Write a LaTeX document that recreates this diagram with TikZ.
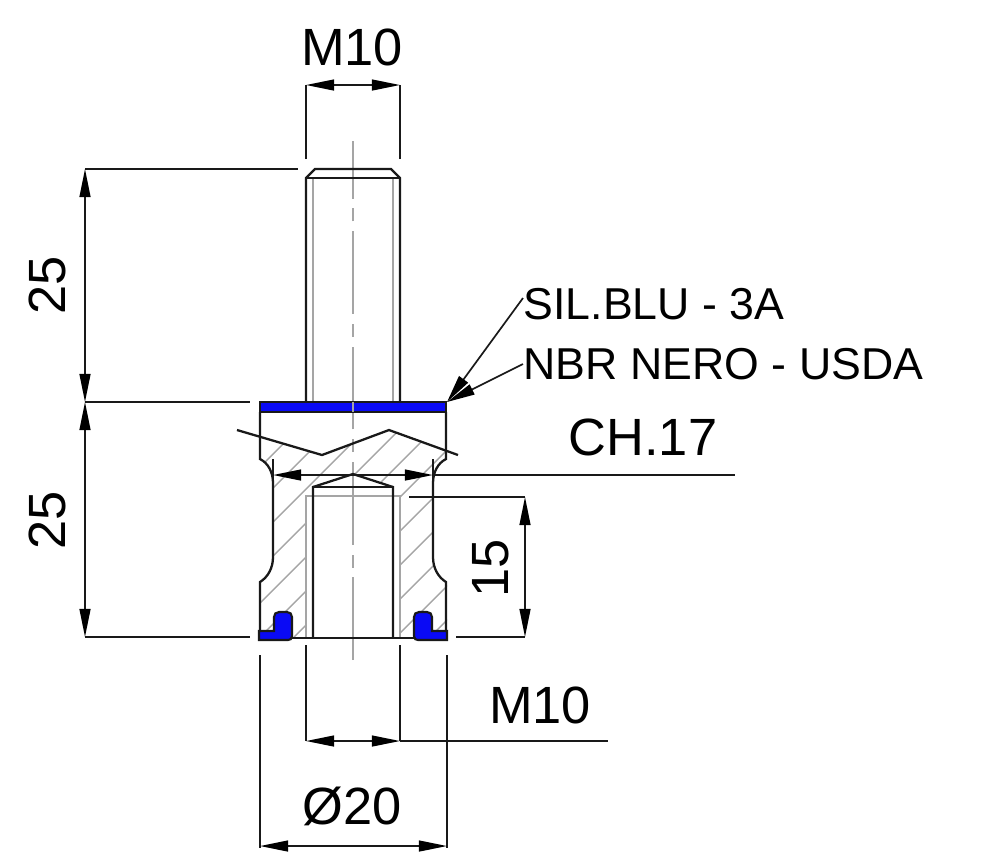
\documentclass[tikz,border=0pt]{standalone}
\usepackage{fontspec}
\setmainfont{Liberation Sans}
\usetikzlibrary{arrows.meta}
\usetikzlibrary{positioning}

\definecolor{sealblue}{RGB}{10,10,245}
\definecolor{hiddengray}{RGB}{165,165,165}

\tikzset{
    outline/.style={black!90,line width=0.65pt},
    hidden/.style={hiddengray,line width=0.6pt},
    hatchline/.style={hiddengray,line width=0.4pt},
    dimline/.style={black!90,line width=0.48pt},
    dimarrow/.style={dimline,{Triangle[length=8pt,width=3.1pt,black]}-{Triangle[length=8pt,width=3.1pt,black]}},
    leader/.style={dimline,-{Triangle[length=8pt,width=3.1pt,black]}},
    seal/.style={draw=black!90,fill=sealblue,line width=0.6pt},
    biglabel/.style={font=\fontsize{14.9}{16}\selectfont,inner sep=0pt},
    smalllabel/.style={font=\fontsize{12.7}{14}\selectfont,inner sep=0pt,anchor=west}
}

\begin{document}
\begin{tikzpicture}[x=0.01cm,y=-0.01cm]
    \useasboundingbox (0,0) rectangle (1000,853);

    %%% Section hatching %%%
    \begin{scope}
        \clip (260,437) -- (322,455) -- (389,430) -- (447,451) -- (447,459)
            .. controls (438,463) and (433,472) .. (433,483) -- (433,557)
            .. controls (433,568) and (438,577) .. (447,582) -- (447,638)
            -- (400,638) -- (400,496) -- (393,496) -- (393,487) -- (353,474)
            -- (313,487) -- (313,496) -- (306,496) -- (306,638) -- (260,638)
            -- (260,582) .. controls (268,577) and (273,568) .. (273,557) -- (273,483)
            .. controls (273,472) and (268,463) .. (260,459) -- cycle;
        \foreach \s in {727,761,795,829,863,897,931,965,999,1033,1067}
            \draw[hatchline] (\s-400,400) -- (\s-650,650);
    \end{scope}

    %%% Hidden lines %%%
    \draw[hidden] (313,178) -- (313,402);
    \draw[hidden] (393,178) -- (393,402);
    \draw[hidden] (306,638) -- (306,496) -- (400,496) -- (400,638);
    \draw[hiddengray,line width=0.45pt,dash pattern=on 23.5pt off 2.8pt on 3.7pt off 2.8pt] (353,660) -- (353,141);

    %%% Stud %%%
    \draw[outline] (306,402) -- (306,178) -- (315,169) -- (391,169) -- (400,178) -- (400,402);
    \draw[outline] (306,178) -- (400,178);

    %%% Body %%%
    \draw[outline] (260,412) -- (260,459)
        .. controls (268,463) and (273,472) .. (273,483) -- (273,557)
        .. controls (273,568) and (268,577) .. (260,582) -- (260,631);
    \draw[outline] (446,412) -- (446,459)
        .. controls (438,463) and (433,472) .. (433,483) -- (433,557)
        .. controls (433,568) and (438,577) .. (446,582) -- (446,631);
    \draw[outline] (237,430) -- (322,455) -- (389,430) -- (458,455);

    %%% Threaded hole %%%
    \draw[outline] (313,638) -- (313,487) -- (353,474) -- (393,487) -- (393,638);
    \draw[outline] (313,487) -- (393,487);
    \draw[black!90,line width=0.8pt] (292,638) -- (414,638);

    %%% Seals %%%
    \draw[seal] (260,402) rectangle (446,412);
    \draw[seal] (259,640) -- (259,631) -- (274,631) -- (274,617)
        .. controls (274,614) and (276,612) .. (279,612) -- (287,612)
        .. controls (290,612) and (292,614) .. (292,617) -- (292,636)
        .. controls (292,639) and (290,640) .. (288,640) -- cycle;
    \draw[seal] (447,640) -- (447,631) -- (432,631) -- (432,617)
        .. controls (432,614) and (430,612) .. (427,612) -- (419,612)
        .. controls (416,612) and (414,614) .. (414,617) -- (414,636)
        .. controls (414,639) and (416,640) .. (418,640) -- cycle;
    \draw[hiddengray,line width=0.45pt] (353,402) -- (353,412);

    %%% Labels %%%
    \node[biglabel] (threadtop) at (352,47) {M10};
    \node[biglabel,rotate=90] (studlen) at (47,285) {25};
    \node[biglabel,rotate=90] (bodylen) at (47,520) {25};
    \node[biglabel,rotate=90] (holelen) at (491,568) {15};
    \node[biglabel] (flats) at (643,437) {CH.17};
    \node[biglabel] (threadlow) at (540,705) {M10};
    \node[biglabel] (diameter) at (352,806) {Ø20};
    \node[smalllabel] (silblu) at (523,304) {SIL.BLU - 3A};
    \node[smalllabel] (nbrnero) at (523,364) {NBR NERO - USDA};

    %%% Dimension lines %%%
    % M10 top
    \draw[dimline] (306,159) -- (306,85);
    \draw[dimline] (400,159) -- (400,85);
    \draw[dimarrow] (306,85) -- (400,85);
    % Heights
    \draw[dimline] (85,169) -- (298,169);
    \draw[dimline] (85,402) -- (250,402);
    \draw[dimline] (85,637) -- (250,637);
    \draw[dimarrow] (85,169) -- (85,402);
    \draw[dimarrow] (85,402) -- (85,637);
    % CH.17
    \draw[dimline] (273,459) -- (273,483);
    \draw[dimline] (433,459) -- (433,483);
    \draw[dimarrow] (273,475) -- (433,475);
    \draw[dimline] (433,475) -- (735,475);
    % 15
    \draw[dimline] (409,497) -- (525,497);
    \draw[dimline] (456,637) -- (525,637);
    \draw[dimarrow] (525,497) -- (525,637);
    % M10 bottom
    \draw[dimline] (306,645) -- (306,741);
    \draw[dimline] (400,645) -- (400,741);
    \draw[dimarrow] (306,741) -- (400,741);
    \draw[dimline] (400,741) -- (608,741);
    % Diameter
    \draw[dimline] (260,655) -- (260,848);
    \draw[dimline] (447,655) -- (447,848);
    \draw[dimarrow] (260,846) -- (447,846);

    %%% Leaders %%%
    \coordinate (sealtip) at (447,402);
    \draw[leader] ([yshift=0.6mm]silblu.west) -- (sealtip);
    \draw[leader] (nbrnero.west) -- (sealtip);
\end{tikzpicture}
\end{document}
